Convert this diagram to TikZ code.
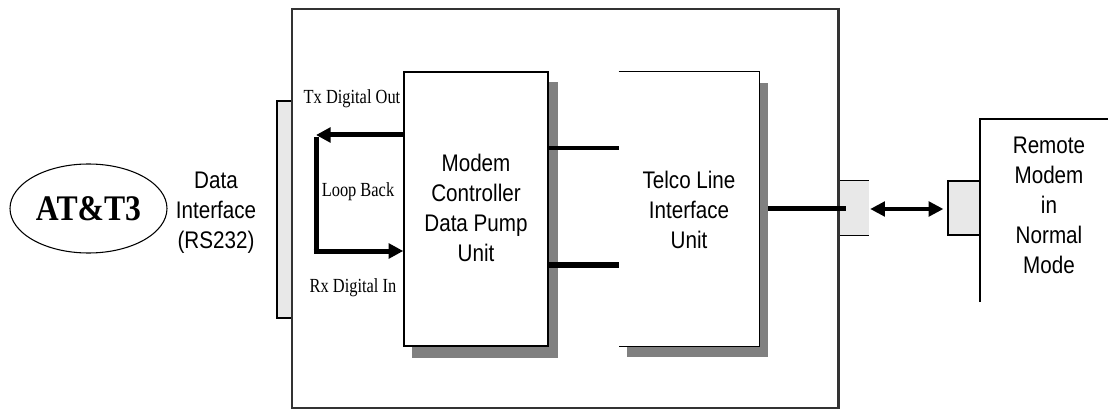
\documentclass[tikz,border=0pt]{standalone}
\usepackage{fontspec}
\setmainfont{Liberation Serif}
\newfontfamily\labsans[FakeStretch=0.86]{Liberation Sans}
\newfontfamily\labserif[FakeStretch=0.82]{Liberation Serif}
\newfontfamily\logoserif[FakeStretch=0.88]{Liberation Serif}
\usetikzlibrary{arrows.meta,shapes.geometric,calc}
\pgfdeclarelayer{back}
\pgfdeclarelayer{shade}
\pgfsetlayers{back,shade,main}
\definecolor{shadowgray}{HTML}{808080}
\definecolor{plugfill}{HTML}{E8E8E8}
\definecolor{framegray}{HTML}{333333}
\begin{document}
\begin{tikzpicture}[x=0.75pt,y=-0.75pt,
  sanstext/.style={font=\labsans\fontsize{18pt}{22.5pt}\selectfont, align=center, inner sep=0pt},
  seriftext/.style={font=\labserif\fontsize{15pt}{18pt}\selectfont, inner sep=0pt},
  unitbox/.style={rectangle, draw=black, line width=1.1pt, fill=white, inner sep=0pt},
  plug/.style={rectangle, fill=plugfill, inner sep=0pt},
  thickwire/.style={line width=3.75pt},
  bigarrow/.style={line width=3.75pt, -{Triangle[length=11pt,width=11pt]}},
  duplex/.style={line width=2.4pt, {Triangle[length=11pt,width=11pt]}-{Triangle[length=11pt,width=11pt]}},
  shadow/.style={fill=shadowgray}
]
\useasboundingbox (0,0) rectangle (1108,410);

\begin{pgfonlayer}{back}
\fill[white] (0,0) rectangle (1108,410);
% left plug strip and outer frame
\node[plug, draw=black, line width=1pt, minimum width=11.25pt, minimum height=162.75pt] (strip) at (284.5,209.5) {};
\node[rectangle, draw=framegray, line width=1.6pt, fill=white, minimum width=409.5pt, minimum height=299.25pt, inner sep=0pt] (outer) at (565,208.5) {};
\end{pgfonlayer}

% AT&T3 ellipse
\node[ellipse, draw=black, line width=0.8pt, minimum width=117.75pt, minimum height=66.75pt, inner sep=0pt,
      font=\logoserif\bfseries\fontsize{27pt}{30pt}\selectfont] (att) at (88.5,208.5) {AT\&T3};
\node[sanstext] (dataif) at (216,213) {Data\\Interface\\(RS232)};

% unit boxes
\node[unitbox, minimum width=108pt, minimum height=205.5pt] (modem) at (476,209) {};
\node[sanstext] (modemtxt) at (476,208) {Modem\\Controller\\Data Pump\\Unit};
\node[rectangle, fill=white, inner sep=0pt, minimum width=105pt, minimum height=205.5pt] (telco) at (689,209) {};
\draw[line width=1.1pt] (telco.north west) -- (telco.north east) -- (telco.south east) -- (telco.south west);
\node[sanstext] (telcotxt) at (689,210) {Telco Line\\Interface\\Unit};

\begin{pgfonlayer}{shade}
  \fill[shadow] ($(modem.south west)+(9,11)$) rectangle ($(modem.north east)+(9,11)$);
  \fill[shadow] ($(telco.south west)+(8,11)$) rectangle ($(telco.north east)+(9,11)$);
\end{pgfonlayer}

% loop back
\coordinate (txend) at (316,135);
\coordinate (loopbot) at (316,251);
\draw[bigarrow] (modem.west |- txend) -- (txend);
\draw[thickwire] ($(txend)+(0,2)$) -- (loopbot);
\draw[bigarrow] ($(loopbot)+(-2.5,0)$) -- (modem.west |- loopbot);
\node[seriftext] (txlab) at (352,99) {Tx Digital Out};
\node[seriftext] (looplab) at (358,192) {Loop Back};
\node[seriftext] (rxlab) at (353,288) {Rx Digital In};

% modem to telco wires
\coordinate (w1) at (548,148);
\coordinate (w2) at (548,265);
\draw[line width=2.4pt] (w1) -- (telco.west |- w1);
\draw[line width=4.2pt] (w2) -- (telco.west |- w2);

% right plug on outer frame
\node[plug, minimum width=23.25pt, minimum height=40.5pt] (plugA) at (853.5,208) {};
\draw[line width=1pt] (outer.east |- plugA.north) -- (plugA.north east);
\draw[line width=1pt] (outer.east |- plugA.south) -- (plugA.south east);
\draw[framegray, line width=1.6pt] (outer.north east) -- (outer.south east);
\coordinate (lineend) at (846,208);
\draw[thickwire] ($(telco.east)+(9,-1)$) -- (lineend);

% remote modem
\node[plug, draw=black, line width=1pt, minimum width=24pt, minimum height=40.5pt] (plugB) at (964,208) {};
\coordinate (remtop) at (980,119);
\coordinate (rembot) at (980,302);
\coordinate (remright) at (1108,119);
\draw[line width=1pt] (rembot) -- (remtop) -- (remright);
\node[sanstext] (remtxt) at (1049,205) {Remote\\Modem\\in\\Normal\\Mode};

\draw[duplex] ($(plugA.east)+(1,1)$) -- ($(plugB.west)+(-4,1)$);
\end{tikzpicture}
\end{document}
